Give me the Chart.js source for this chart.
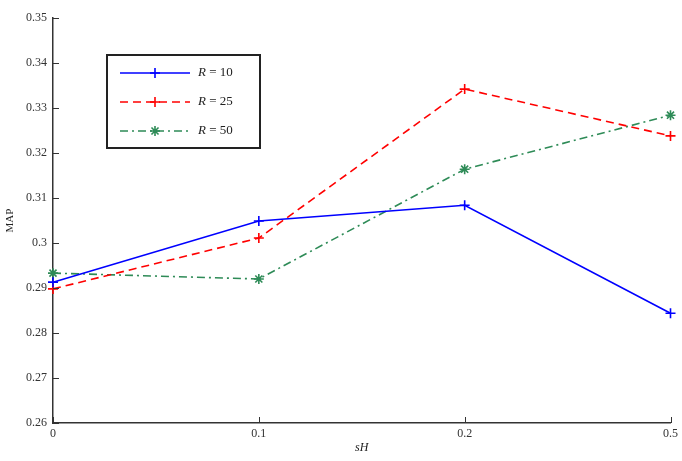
<!DOCTYPE html>
<html>
<head>
<meta charset="utf-8">
<script src="https://cdn.jsdelivr.net/npm/chart.js@4"></script>
<style>
  html, body { margin: 0; padding: 0; background: #fff; }
  #wrap { width: 682px; height: 461px; }
</style>
</head>
<body>
<div id="wrap"><canvas id="map-chart"></canvas></div>
<script>
// data
const sHLabels = ['0', '0.1', '0.2', '0.5'];
const mapR10 = [0.2913, 0.3049, 0.3084, 0.2844];
const mapR25 = [0.2898, 0.3011, 0.3342, 0.3238];
const mapR50 = [0.2933, 0.2920, 0.3164, 0.3284];
const seriesNames = ['R = 10', 'R = 25', 'R = 50'];

const serif = "'Liberation Serif', 'DejaVu Serif', serif";

// ticks pointing inside the plot, matlab style
const inwardTicks = {
    id: 'inwardTicks',
    afterDraw(chart) {
        const ctx = chart.ctx;
        const x = chart.scales.x, y = chart.scales.y;
        ctx.save();
        ctx.strokeStyle = '#333';
        ctx.lineWidth = 1;
        ctx.beginPath();
        x.ticks.forEach((t, i) => {
            const px = Math.round(x.getPixelForTick(i)) + 0.5;
            ctx.moveTo(px, y.bottom);
            ctx.lineTo(px, y.bottom - 6);
        });
        y.ticks.forEach((t, i) => {
            const py = Math.round(y.getPixelForTick(i)) + 0.5;
            ctx.moveTo(x.left, py);
            ctx.lineTo(x.left + 6, py);
        });
        ctx.stroke();
        ctx.restore();
    }
};

// legend box in the upper left of the plot
const boxLegend = {
    id: 'boxLegend',
    afterDraw(chart) {
        const ctx = chart.ctx;
        const bx = 107, by = 55, bw = 153, bh = 93;
        ctx.save();
        ctx.fillStyle = '#fff';
        ctx.fillRect(bx, by, bw, bh);
        ctx.strokeStyle = '#222';
        ctx.lineWidth = 2;
        ctx.strokeRect(bx, by, bw, bh);
        chart.data.datasets.forEach((ds, i) => {
            const ry = by + 18 + i * 29;
            ctx.strokeStyle = ds.borderColor;
            ctx.lineWidth = ds.borderWidth;
            ctx.setLineDash(ds.borderDash || []);
            ctx.beginPath();
            ctx.moveTo(bx + 13, ry);
            ctx.lineTo(bx + 83, ry);
            ctx.stroke();
            ctx.setLineDash([]);
            Chart.helpers.drawPoint(ctx, {
                pointStyle: ds.pointStyle,
                radius: ds.pointRadius,
                borderWidth: ds.pointBorderWidth
            }, bx + 48, ry);
            ctx.fillStyle = '#222';
            ctx.textBaseline = 'middle';
            ctx.font = 'italic 13px ' + serif;
            ctx.fillText('R', bx + 91, ry);
            const w = ctx.measureText('R').width;
            ctx.font = '13px ' + serif;
            ctx.fillText(seriesNames[i].slice(1), bx + 91 + w, ry);
        });
        ctx.restore();
    }
};

function makeSeries(label, data, color, dash, style) {
    return {
        label: label,
        data: data,
        borderColor: color,
        backgroundColor: color,
        borderWidth: 1.6,
        borderDash: dash,
        pointStyle: style,
        pointRadius: 5,
        pointBorderWidth: 1.6,
        pointBorderColor: color,
        fill: false,
        tension: 0,
        clip: false
    };
}

const mapChart = new Chart(document.getElementById('map-chart').getContext('2d'), {
    type: 'line',
    data: {
        labels: sHLabels,
        datasets: [
            makeSeries(seriesNames[0], mapR10, '#0000ff', [], 'cross'),
            makeSeries(seriesNames[1], mapR25, '#ff0000', [8, 5], 'cross'),
            makeSeries(seriesNames[2], mapR50, '#2e8b57', [8, 4, 2, 4], 'star')
        ]
    },
    options: {
        responsive: true,
        maintainAspectRatio: false,
        animation: false,
        layout: { padding: { top: 18, right: 9, left: 0, bottom: 0 } },
        plugins: {
            legend: { display: false },
            tooltip: { enabled: false }
        },
        scales: {
            x: {
                offset: false,
                grid: { display: true, drawOnChartArea: false, drawTicks: false },
                border: { display: true, color: '#333', width: 1.5 },
                ticks: {
                    color: '#333',
                    padding: 4,
                    maxRotation: 0,
                    font: { family: serif, size: 12 }
                },
                title: {
                    display: true,
                    text: 'sH',
                    color: '#222',
                    padding: { top: 0, bottom: 6 },
                    font: { family: serif, size: 12, style: 'italic' }
                },
                afterFit(scale) { scale.height = 38; }
            },
            y: {
                min: 0.26,
                max: 0.35,
                grid: { display: true, drawOnChartArea: false, drawTicks: false },
                border: { display: true, color: '#333', width: 1.5 },
                ticks: {
                    stepSize: 0.01,
                    color: '#333',
                    padding: 6,
                    font: { family: serif, size: 12 },
                    callback: v => String(Number(v.toFixed(2)))
                },
                title: {
                    display: true,
                    text: 'MAP',
                    color: '#222',
                    padding: { top: 4, bottom: 0 },
                    font: { family: serif, size: 11 }
                },
                afterFit(scale) { scale.width = 53; }
            }
        }
    },
    plugins: [inwardTicks, boxLegend]
});
</script>
</body>
</html>
